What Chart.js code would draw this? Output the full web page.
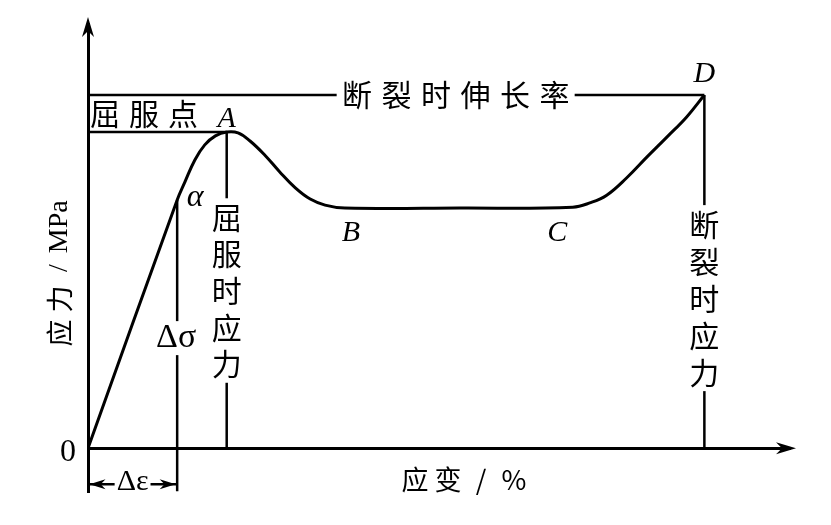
<!DOCTYPE html>
<html>
<head>
<meta charset="utf-8">
<script src="https://cdn.jsdelivr.net/npm/chart.js@4"></script>
<style>
  html, body { margin: 0; padding: 0; background: #fff; }
  #wrap { width: 831px; height: 525px; }
</style>
</head>
<body>
<div id="wrap"><canvas id="chart"></canvas></div>
<script>
// stress-strain curve (schematic units)
const strain = [0, 12.6, 13.7, 15.1, 16.5, 18.0, 19.6, 21.2, 22.9, 25.0, 27.1, 29.3, 31.4, 33.5, 36.3, 52.5, 68.5, 70.9, 73.3, 76.1, 79.0, 81.8, 84.6, 87.1];
const stress = [0, 57.7, 61.9, 67.0, 70.5, 72.6, 73.5, 73.3, 71.4, 68.1, 64.2, 60.5, 57.9, 56.5, 55.8, 55.8, 56.0, 57.0, 58.8, 62.8, 67.7, 72.3, 77.0, 82.1];

// key points
const yieldPoint = { x: 19.6, y: 73.5 };   // A
const breakPoint = { x: 87.1, y: 82.1 };   // D
const alphaPoint = { x: 12.6, y: 57.7 };   // α
const dimLevel = -8.4;                     // Δε dimension line
const dimBottom = -10;

const curve = strain.map((x, i) => ({ x: x, y: stress[i] }));

function seg(a, b) { return [a, b]; }

const refStyle = { borderColor: '#000', borderWidth: 2.5, pointRadius: 0, showLine: true, tension: 0, fill: false };

// text labels (anchor in data units, style separate)
const labels = [
  { chars: ['屈', '服', '点'], x: 0, y: yieldPoint.y, dx: 17, dy: -18, step: [39, 0], font: '30px "Noto Sans CJK SC"', bg: false },
  { chars: ['断', '裂', '时', '伸', '长', '率'], x: 38.0, y: breakPoint.y, dx: 0, dy: 0, step: [39.5, 0], font: '30px "Noto Sans CJK SC"', bg: true },
  { chars: ['屈', '服', '时', '应', '力'], x: yieldPoint.x, y: 0, dx: 0, dy: -231, step: [0, 36.7], font: '30px "Noto Sans CJK SC"', bg: true },
  { chars: ['断', '裂', '时', '应', '力'], x: breakPoint.x, y: 0, dx: 0, dy: -224, step: [0, 37], font: '30px "Noto Sans CJK SC"', bg: true },
  { chars: ['A'], x: yieldPoint.x, y: yieldPoint.y, dx: 0, dy: -13, step: [0, 0], font: 'italic 30px "Liberation Serif"', bg: false },
  { chars: ['B'], x: 37.0, y: 55.8, dx: 1, dy: 25, step: [0, 0], font: 'italic 30px "Liberation Serif"', bg: false },
  { chars: ['C'], x: 66.3, y: 55.8, dx: 0, dy: 25, step: [0, 0], font: 'italic 30px "Liberation Serif"', bg: false },
  { chars: ['D'], x: breakPoint.x, y: breakPoint.y, dx: 0, dy: -21, step: [0, 0], font: 'italic 30px "Liberation Serif"', bg: false },
  { chars: ['α'], x: alphaPoint.x, y: alphaPoint.y, dx: 18, dy: -2, step: [0, 0], font: 'italic 32px "Liberation Serif"', bg: false },
  { chars: ['Δσ'], x: alphaPoint.x, y: 0, dx: -1, dy: -110, step: [0, 0], font: '34px "Liberation Serif"', bg: true },
  { chars: ['0'], x: 0, y: 0, dx: -20, dy: 4, step: [0, 0], font: '32px "Liberation Serif"', bg: false },
  { chars: ['Δε'], x: alphaPoint.x / 2, y: dimLevel, dx: 0, dy: -2, step: [0, 0], font: '30px "Liberation Serif"', bg: true, pad: 4 },
  { chars: ['应', '变', '/', '%'], x: 0, y: 0, dx: 327, dy: 32, step: [33, 0], font: '27px "Noto Sans CJK SC"', bg: false }
];

function arrow(ctx, x, y, dir, len, half) {
  // dir: unit vector the arrow points to
  const px = -dir[1], py = dir[0];
  ctx.beginPath();
  ctx.moveTo(x, y);
  ctx.lineTo(x - dir[0] * len + px * half, y - dir[1] * len + py * half);
  ctx.lineTo(x - dir[0] * len * 0.7, y - dir[1] * len * 0.7);
  ctx.lineTo(x - dir[0] * len - px * half, y - dir[1] * len - py * half);
  ctx.closePath();
  ctx.fill();
}

const decor = {
  id: 'decor',
  afterDatasetsDraw(chart) {
    const ctx = chart.ctx;
    const xs = chart.scales.x, ys = chart.scales.y;
    ctx.save();
    ctx.fillStyle = '#000';

    // axis arrows
    const x0 = xs.getPixelForValue(0), y0 = ys.getPixelForValue(0);
    arrow(ctx, x0, ys.top - 7, [0, -1], 20, 6);
    arrow(ctx, xs.right + 6, y0, [1, 0], 20, 6);

    // Δε dimension arrows
    const yd = ys.getPixelForValue(dimLevel);
    arrow(ctx, x0 + 1.5, yd, [-1, 0], 16, 5);
    arrow(ctx, xs.getPixelForValue(alphaPoint.x) - 1.5, yd, [1, 0], 16, 5);

    // labels
    ctx.textAlign = 'center';
    ctx.textBaseline = 'middle';
    labels.forEach(l => {
      ctx.font = l.font;
      let cx = xs.getPixelForValue(l.x) + l.dx;
      let cy = ys.getPixelForValue(l.y) + l.dy;
      l.chars.forEach((c, i) => {
        const px = cx + l.step[0] * i, py = cy + l.step[1] * i;
        if (l.bg) {
          const w = ctx.measureText(c).width + (l.pad || 8);
          const h = l.step[1] ? l.step[1] + 1 : 34;
          const ww = l.step[0] ? l.step[0] + 1 : w;
          ctx.fillStyle = '#fff';
          ctx.fillRect(px - ww / 2, py - h / 2, ww, h);
          ctx.fillStyle = '#000';
        }
        ctx.fillText(c, px, py);
      });
    });

    // y axis title, rotated
    ctx.translate(x0 - 28, ys.getPixelForValue(0) - 185);
    ctx.rotate(-Math.PI / 2);
    ctx.textAlign = 'center';
    ctx.font = '27px "Noto Sans CJK SC"';
    ctx.fillText('应', -70, 0);
    ctx.fillText('力', -36, 0);
    ctx.font = '28px "Liberation Serif"';
    ctx.fillText('/', -5, 0);
    ctx.textAlign = 'left';
    ctx.fillText('MPa', 10, 0);
    ctx.restore();
  }
};

new Chart(document.getElementById('chart'), {
  type: 'scatter',
  data: {
    datasets: [
      { data: curve, borderColor: '#000', borderWidth: 3, pointRadius: 0, showLine: true, tension: 0.4, fill: false },
      Object.assign({ data: seg({ x: 0, y: yieldPoint.y }, yieldPoint) }, refStyle),
      Object.assign({ data: seg({ x: 0, y: breakPoint.y }, breakPoint) }, refStyle),
      Object.assign({ data: seg(yieldPoint, { x: yieldPoint.x, y: 0 }) }, refStyle),
      Object.assign({ data: seg(breakPoint, { x: breakPoint.x, y: 0 }) }, refStyle),
      Object.assign({ data: seg(alphaPoint, { x: alphaPoint.x, y: dimBottom }) }, refStyle),
      Object.assign({ data: seg({ x: 0, y: dimLevel }, { x: alphaPoint.x, y: dimLevel }) }, refStyle)
    ]
  },
  options: {
    responsive: true,
    maintainAspectRatio: false,
    animation: false,
    events: [],
    layout: { padding: { left: 88, right: 41, top: 24, bottom: 33 } },
    plugins: { legend: { display: false }, tooltip: { enabled: false } },
    scales: {
      x: {
        type: 'linear', min: 0, max: 99.2,
        position: { y: 0 },
        grid: { display: false, drawTicks: false },
        ticks: { display: false },
        border: { display: true, color: '#000', width: 3 },
        afterFit: s => { s.height = 0; }
      },
      y: {
        type: 'linear', min: -10.2, max: 98.6,
        position: 'left',
        grid: { display: false, drawTicks: false },
        ticks: { display: false },
        border: { display: true, color: '#000', width: 3 },
        afterFit: s => { s.width = 0; }
      }
    }
  },
  plugins: [decor]
});
</script>
</body>
</html>
